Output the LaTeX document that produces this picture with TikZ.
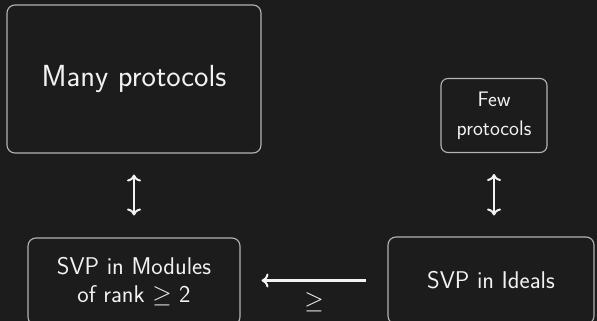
\documentclass[tikz,border=0pt]{standalone}
\usetikzlibrary{arrows.meta}
\definecolor{bg}{HTML}{1C1C1C}
\definecolor{edge}{HTML}{B4B4B4}
\definecolor{ink}{HTML}{F2F2F2}
\begin{document}
\begin{tikzpicture}[x=1pt,y=-1pt,
  box/.style={draw=edge, line width=1.1pt, rounded corners=8pt, fill=bg,
    text=ink, align=center, inner sep=0pt},
  tip/.tip={Computer Modern Rightarrow[length=7pt, width=14pt, line width=2pt]},
  link/.style={draw=ink, line width=2.2pt, tip-tip},
  onearrow/.style={draw=ink, line width=2.2pt, -tip}]
  % canvas
  \fill[bg] (0,0) rectangle (597,321);
  \useasboundingbox (0,0) rectangle (597,321);

  % boxes
  \node[box, minimum width=254pt, minimum height=148pt,
        font=\sffamily\fontsize{30.5}{36}\selectfont] (many) at (134,79) {Many protocols};
  \node[box, minimum width=106pt, minimum height=74pt, rounded corners=7pt,
        font=\sffamily\fontsize{21}{29}\selectfont] (few) at (494,115.5) {Few\\protocols};
  \node[box, minimum width=212pt, minimum height=87pt,
        font=\sffamily\fontsize{24.2}{28.3}\selectfont] (modules) at (134,281.5)
        {SVP in Modules\\of rank $\geq$ 2};
  \node[box, minimum width=206pt, minimum height=87pt,
        font=\sffamily\fontsize{24.2}{28.3}\selectfont] (ideals) at (491,280.5) {SVP in Ideals};

  % equivalences
  \draw[link, shorten <=21pt, shorten >=22pt] (many.south) -- (modules.north);
  \draw[link, shorten <=21pt, shorten >=21pt] (few.south) -- (few.south |- ideals.north);

  % reduction
  \draw[onearrow, shorten <=21pt, shorten >=21pt] (ideals.west) -- (modules.east |- ideals.west)
    node[midway, below=8pt, text=ink, font=\fontsize{24}{28}\selectfont] (rel) {$\geq$};
\end{tikzpicture}
\end{document}
